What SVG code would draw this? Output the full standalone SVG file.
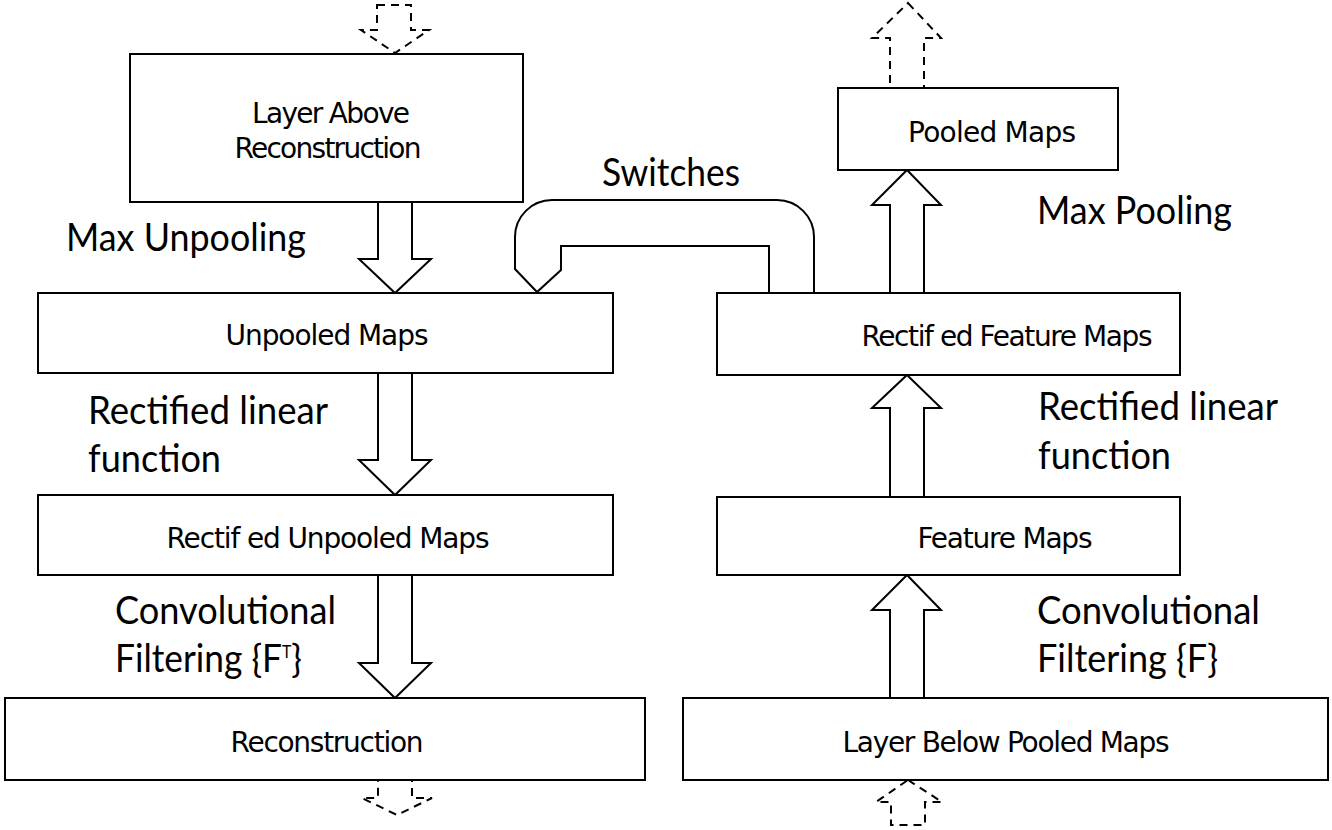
<svg xmlns="http://www.w3.org/2000/svg" width="1332" height="830" viewBox="0 0 1332 830">
<style>
.box{fill:#fff;stroke:#000;stroke-width:2}
.arr{fill:#fff;stroke:#000;stroke-width:2;stroke-linejoin:miter}
.dash{fill:none;stroke:#000;stroke-width:2;stroke-dasharray:8 6}
.bt{font-family:"DejaVu Sans",sans-serif;font-size:28px;fill:#000;text-anchor:middle}
.lb{font-family:Lato,"Liberation Sans",sans-serif;font-size:38px;fill:#000}
</style>
<rect width="1332" height="830" fill="#fff"/>
<g id="connectors">
<polygon class="dash" points="377,5 411,5 411,30 429,30 395,53 361,30 377,30"/>
<polygon class="arr" points="378,202 412,202 412,259 431,259 395,293 359,259 378,259"/>
<polygon class="arr" points="378,373 412,373 412,460 431,460 395,495 359,460 378,460"/>
<polygon class="arr" points="378,575 412,575 412,663 431,663 395,698 359,663 378,663"/>
<polygon class="dash" points="378,780 412,780 412,798 432,798 397,815 362,798 378,798"/>
<polygon class="dash" points="908,3 941,38 924,38 924,88 890,88 890,38 872,38"/>
<polygon class="arr" points="907,170 941,205 924,205 924,293 890,293 890,205 872,205"/>
<polygon class="arr" points="907,375 941,408 924,408 924,497 890,497 890,408 872,408"/>
<polygon class="arr" points="907,575 941,610 924,610 924,698 890,698 890,610 872,610"/>
<polygon class="dash" points="908,780 942,802 925,802 925,825 891,825 891,802 876,802"/>
<path class="arr" d="M814,293 V237 A37,37 0 0 0 777,200 H552 A37,37 0 0 0 515,237 V269 L537,292 L561,270 V246 H769 V293"/>
</g>
<g id="n1"><rect class="box" x="130" y="54" width="393" height="148"/>
<text class="bt" x="331" y="123" textLength="158" lengthAdjust="spacing">Layer Above</text>
<text class="bt" x="328" y="158" textLength="187" lengthAdjust="spacing">Reconstruction</text></g>
<g id="n2"><rect class="box" x="38" y="293" width="575" height="80"/>
<text class="bt" x="327" y="345" textLength="203" lengthAdjust="spacing">Unpooled Maps</text></g>
<g id="n3"><rect class="box" x="38" y="495" width="575" height="80"/>
<text class="bt" x="328" y="548" textLength="323" lengthAdjust="spacing">Rectif ed Unpooled Maps</text></g>
<g id="n4"><rect class="box" x="5" y="698" width="640" height="82"/>
<text class="bt" x="327" y="752" textLength="193" lengthAdjust="spacing">Reconstruction</text></g>
<g id="n5"><rect class="box" x="838" y="88" width="280" height="82"/>
<text class="bt" x="992" y="142" textLength="168" lengthAdjust="spacing">Pooled Maps</text></g>
<g id="n6"><rect class="box" x="717" y="293" width="463" height="82"/>
<text class="bt" x="1007" y="346" textLength="291" lengthAdjust="spacing">Rectif ed Feature Maps</text></g>
<g id="n7"><rect class="box" x="717" y="497" width="463" height="78"/>
<text class="bt" x="1005" y="548" textLength="175" lengthAdjust="spacing">Feature Maps</text></g>
<g id="n8"><rect class="box" x="683" y="698" width="645" height="82"/>
<text class="bt" x="1006" y="752" textLength="327" lengthAdjust="spacing">Layer Below Pooled Maps</text></g>
<g id="labels">
<text class="lb" x="602" y="186" textLength="138" lengthAdjust="spacingAndGlyphs">Switches</text>
<text class="lb" x="66" y="251" textLength="240" lengthAdjust="spacingAndGlyphs">Max Unpooling</text>
<text class="lb" x="88" y="424" textLength="240" lengthAdjust="spacingAndGlyphs">Rectified linear</text>
<text class="lb" x="88" y="472" textLength="133" lengthAdjust="spacingAndGlyphs">function</text>
<text class="lb" x="115" y="624" textLength="221" lengthAdjust="spacingAndGlyphs">Convolutional</text>
<text class="lb" x="115" y="672" textLength="187" lengthAdjust="spacingAndGlyphs">Filtering {F<tspan font-size="17" dy="-14">T</tspan><tspan dy="14">}</tspan></text>
<text class="lb" x="1037" y="224" textLength="195" lengthAdjust="spacingAndGlyphs">Max Pooling</text>
<text class="lb" x="1038" y="420" textLength="240" lengthAdjust="spacingAndGlyphs">Rectified linear</text>
<text class="lb" x="1038" y="469" textLength="133" lengthAdjust="spacingAndGlyphs">function</text>
<text class="lb" x="1037" y="624" textLength="223" lengthAdjust="spacingAndGlyphs">Convolutional</text>
<text class="lb" x="1037" y="672" textLength="181" lengthAdjust="spacingAndGlyphs">Filtering {F}</text>
</g>
</svg>
